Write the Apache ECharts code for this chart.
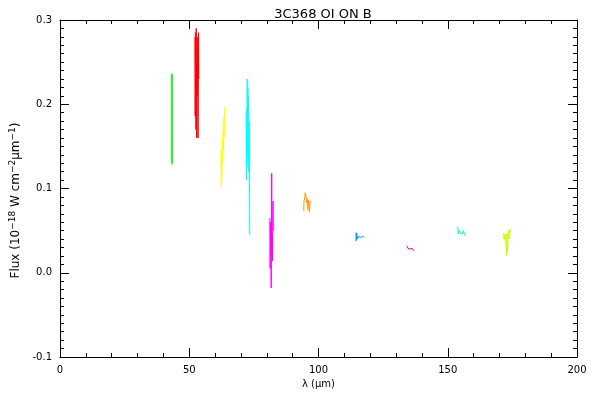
<!DOCTYPE html>
<html>
<head>
<meta charset="utf-8">
<script src="https://cdn.jsdelivr.net/npm/echarts@6/dist/echarts.min.js"></script>
<style>html,body{margin:0;padding:0;background:#fff}#c{width:600px;height:400px}</style>
</head>
<body>
<div id="c"></div>
<script>
// Spectral segments: [wavelength (um), flux]
const segGreen = [[43.25,0.237],[43.3,0.13],[43.35,0.235],[43.4,0.128]];
const segRed = [[52.2,0.28],[52.3,0.186],[52.4,0.285],[52.6,0.17],[52.7,0.29],[52.9,0.16],[53.0,0.25],[53.1,0.21],[53.3,0.28],[53.4,0.16],[53.6,0.285],[53.7,0.23]];
const segYellow = [[62.3,0.102],[62.4,0.145],[62.5,0.108],[62.7,0.14],[62.8,0.16],[62.9,0.13],[63.1,0.165],[63.2,0.145],[63.4,0.185],[63.5,0.16],[63.7,0.197],[63.8,0.165]];
const segCyan = [[72.0,0.19],[72.1,0.11],[72.2,0.195],[72.3,0.125],[72.45,0.23],[72.55,0.14],[72.7,0.22],[72.8,0.13],[72.9,0.21],[73.0,0.12],[73.2,0.18],[73.4,0.045]];
const segMagenta = [[81.2,0.065],[81.3,0.005],[81.4,0.06],[81.5,0.02],[81.6,0.05],[81.7,-0.018],[81.9,0.118],[82.0,0.03],[82.1,0.045],[82.2,0.014],[82.4,0.085],[82.5,0.05]];
const segOrange = [[94.3,0.073],[94.4,0.085],[94.7,0.09],[94.9,0.095],[95.2,0.09],[95.4,0.083],[95.7,0.088],[95.9,0.075],[96.2,0.086],[96.5,0.072],[96.7,0.082],[97.0,0.085]];
const segBlue = [[114.5,0.048],[114.6,0.038],[114.8,0.047],[115.1,0.04],[115.4,0.043],[115.7,0.041],[116.0,0.044],[116.3,0.042],[116.6,0.043],[116.9,0.041],[117.3,0.043],[117.7,0.042]];
const segPink = [[134.2,0.032],[134.6,0.029],[135.0,0.031],[135.4,0.028],[135.8,0.030],[136.2,0.029],[136.5,0.030],[136.8,0.026]];
const segTeal = [[153.9,0.055],[154.1,0.046],[154.4,0.05],[154.8,0.047],[155.2,0.049],[155.6,0.046],[156.0,0.05],[156.4,0.047],[156.8,0.044]];
const segLime = [[171.6,0.047],[171.8,0.04],[172.0,0.046],[172.3,0.042],[172.5,0.035],[172.7,0.02],[172.9,0.046],[173.1,0.025],[173.4,0.05],[173.7,0.04],[174.0,0.052],[174.3,0.048]];

const segments = [segGreen, segRed, segYellow, segCyan, segMagenta, segOrange, segBlue, segPink, segTeal, segLime];
const segColors = ['#00ff00','#ff0000','#ffff00','#00ffff','#ff00ff','#ff9900','#0099ff','#ff0099','#00ffaa','#ccff00'];

const xTicks = {min: 0, max: 200, interval: 50};
const yTicks = {min: -0.1, max: 0.3, interval: 0.1};

const font = 'DejaVu Sans';
const chart = echarts.init(document.getElementById('c'), null, {renderer: 'canvas'});

function axisBase(extra) {
  return Object.assign({
    type: 'value',
    axisLine: {show: true, onZero: false, lineStyle: {color: '#000', width: 1}},
    axisTick: {show: true, inside: true, length: 9, lineStyle: {color: '#000'}},
    minorTick: {show: true, length: 4, lineStyle: {color: '#000'}},
    splitLine: {show: false},
    minorSplitLine: {show: false}
  }, extra);
}

chart.setOption({
  animation: false,
  backgroundColor: '#fff',
  title: {text: '3C368 OI ON B', left: 318, textAlign: 'center', top: 3,
    textStyle: {fontFamily: font, fontSize: 13, fontWeight: 'normal', color: '#000'}},
  grid: {left: 60, right: 23, top: 20, bottom: 43},
  xAxis: [
    axisBase({min: xTicks.min, max: xTicks.max, interval: xTicks.interval, position: 'bottom',
      minorTick: {show: true, splitNumber: 5, length: 4, lineStyle: {color: '#000'}},
      axisLabel: {fontFamily: font, fontSize: 10, color: '#000', margin: 8},
      name: 'λ (μm)', nameLocation: 'middle', nameGap: 22,
      nameTextStyle: {fontFamily: font, fontSize: 10, color: '#000'}}),
    axisBase({min: xTicks.min, max: xTicks.max, interval: xTicks.interval, position: 'top',
      minorTick: {show: true, splitNumber: 5, length: 4, lineStyle: {color: '#000'}},
      axisLabel: {show: false}})
  ],
  yAxis: [
    axisBase({min: yTicks.min, max: yTicks.max, interval: yTicks.interval, position: 'left',
      minorTick: {show: true, splitNumber: 10, length: 4, lineStyle: {color: '#000'}},
      axisLabel: {fontFamily: font, fontSize: 10, color: '#000', margin: 8,
        formatter: v => v.toFixed(1)},
      name: 'Flux (10{sup|−18} W cm{sup|−2}{n|μm}{sup|−1})', nameLocation: 'middle', nameGap: 28,
      nameTextStyle: {fontFamily: font, fontSize: 12, color: '#000', padding: [0, 24, 0, 0],
        rich: {sup: {fontFamily: font, fontSize: 9, color: '#000', verticalAlign: 'top', padding: [0,0,6,0]},
               n: {fontFamily: font, fontSize: 12, color: '#000'}}}}),
    axisBase({min: yTicks.min, max: yTicks.max, interval: yTicks.interval, position: 'right',
      minorTick: {show: true, splitNumber: 10, length: 4, lineStyle: {color: '#000'}},
      axisLabel: {show: false}})
  ],
  series: segments.map((seg, i) => ({
    type: 'line', data: seg, showSymbol: false, symbol: 'none',
    lineStyle: {color: segColors[i], width: 1}, itemStyle: {color: segColors[i]},
    xAxisIndex: 0, yAxisIndex: 0
  }))
});
</script>
</body>
</html>
